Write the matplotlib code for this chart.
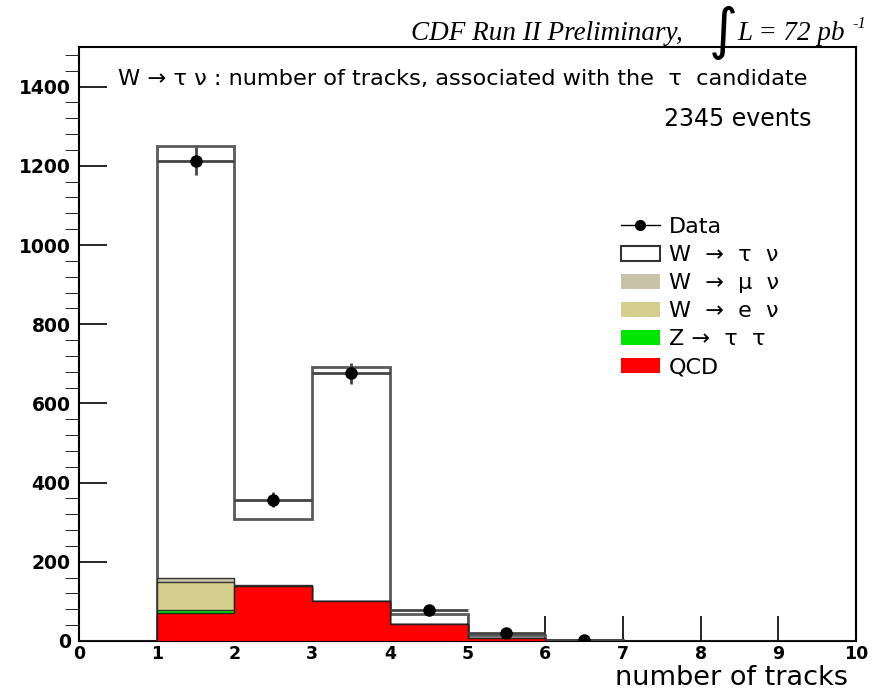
import numpy as np
import matplotlib
matplotlib.use("Agg")
import matplotlib.pyplot as plt
from matplotlib.patches import Patch
from matplotlib.lines import Line2D

plt.rcParams['font.family'] = ['DejaVu Sans']

# bin edges: number of tracks 0..10
edges = np.arange(0, 11)

# stacked MC components (events per bin)
qcd      = [0, 70, 138, 101, 42, 8, 1, 0, 0, 0]
z_tautau = [0, 8, 1, 1, 0, 0, 0, 0, 0, 0]
w_enu    = [0, 70, 1, 0, 0, 0, 0, 0, 0, 0]
w_munu   = [0, 12, 1, 0, 0, 0, 0, 0, 0, 0]
w_taunu  = [0, 1090, 168, 589, 26, 7, 1, 0, 0, 0]

# data
data_x = [1.5, 2.5, 3.5, 4.5, 5.5, 6.5]
data_y = [1213, 357, 676, 78, 19, 2]
data_err = [35, 19, 26, 9, 4, 1]

col_munu = '#c8c3a8'
col_enu = '#d4cf8c'
col_z = '#00e600'
col_qcd = '#ff0000'

fig = plt.figure(figsize=(8.86, 6.9), dpi=100)
ax = fig.add_axes([79/886, 1-641/690, 777/886, 594/690])

s_qcd = np.array(qcd, float)
s_z = s_qcd + z_tautau
s_e = s_z + w_enu
s_mu = s_e + w_munu
s_tau = s_mu + w_taunu

ax.stairs(s_tau, edges, fill=True, color='white', zorder=1)
ax.stairs(s_tau, edges, color='#5a5a5a', lw=2, zorder=2)
ax.stairs(s_mu, edges, fill=True, color=col_munu, zorder=3)
ax.stairs(s_mu, edges, color='#333333', lw=1, zorder=3)
ax.stairs(s_e, edges, fill=True, color=col_enu, zorder=4)
ax.stairs(s_e, edges, color='#333333', lw=1, zorder=4)
ax.stairs(s_z, edges, fill=True, color=col_z, zorder=5)
ax.stairs(s_z, edges, color='#333333', lw=1, zorder=5)
ax.stairs(s_qcd, edges, fill=True, color=col_qcd, zorder=6)
ax.stairs(s_qcd, edges, color='#222222', lw=1, zorder=6)

ax.errorbar(data_x, data_y, yerr=data_err, xerr=0.5, fmt='o', color='black',
            ecolor='#444444', elinewidth=2, capsize=0, markersize=8, zorder=8)

ax.set_xlim(0, 10)
ax.set_ylim(0, 1500)
ax.set_xticks(range(0, 11))
ax.set_yticks(range(0, 1401, 200))
ax.set_yticks(range(0, 1500, 40), minor=True)
ax.tick_params(axis='both', direction='in', top=False, right=False,
               labelsize=13.5, width=1.2)
ax.tick_params(axis='y', which='major', length=20, pad=6)
ax.tick_params(axis='y', which='minor', length=10)
ax.tick_params(axis='x', which='major', length=18, pad=3, labelsize=12.5)
for lab in ax.get_xticklabels() + ax.get_yticklabels():
    lab.set_fontweight('bold')
for sp in ax.spines.values():
    sp.set_linewidth(1.5)

ax.text(39/777, 1-32/594, "W \u2192 \u03c4 \u03bd : number of tracks, associated with the  \u03c4  candidate",
        transform=ax.transAxes, fontsize=16.2, ha='left', va='center')
ax.text(733/777, 1-72/594, "2345 events", transform=ax.transAxes, fontsize=17,
        ha='right', va='center')

fig.text(848/886, 1-685/690, "number of tracks", fontsize=19.5, ha='right', va='baseline')

# header above the frame
fig.text(683/886, 1-34/690, "CDF Run II Preliminary,", family='Liberation Serif',
         style='italic', fontsize=19.5, ha='right', va='center')
fig.text(723/886, 1-33/690, "\u222b", fontsize=40, ha='center', va='center')
fig.text(737/886, 1-34/690, "L = 72 pb", family='Liberation Serif',
         style='italic', fontsize=19.5, ha='left', va='center')
fig.text(852/886, 1-24/690, "-1", family='Liberation Serif',
         style='italic', fontsize=12, ha='left', va='center')

handles = [
    Line2D([0], [0], color='black', lw=1, marker='o', markersize=7),
    Patch(facecolor='white', edgecolor='#333333', lw=1.5),
    Patch(facecolor=col_munu, edgecolor='none'),
    Patch(facecolor=col_enu, edgecolor='none'),
    Patch(facecolor=col_z, edgecolor='none'),
    Patch(facecolor=col_qcd, edgecolor='none'),
]
labels = ["Data", "W  \u2192  \u03c4  \u03bd", "W  \u2192  \u03bc  \u03bd",
          "W  \u2192  e  \u03bd", "Z \u2192  \u03c4  \u03c4", "QCD"]
ax.legend(handles, labels, loc='upper left', bbox_to_anchor=(542/777, 1-170/594),
          frameon=False, fontsize=16, handlelength=1.75, handleheight=0.65,
          labelspacing=0.36, handletextpad=0.4, borderaxespad=0, borderpad=0)

fig.savefig("out.png", dpi=100)
